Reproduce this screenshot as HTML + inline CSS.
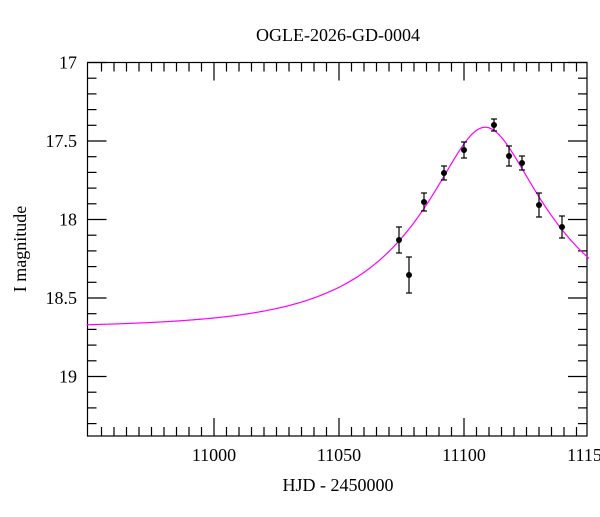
<!DOCTYPE html>
<html><head><meta charset="utf-8"><style>
body{margin:0;background:#fff}
svg text{font-family:"Liberation Serif",serif;fill:#000}
</style></head><body>
<svg id="s" width="600" height="512" viewBox="0 0 600 512" xmlns="http://www.w3.org/2000/svg">
<text x="338" y="41" font-size="18" text-anchor="middle">OGLE-2026-GD-0004</text>
<text x="338" y="491" font-size="18" text-anchor="middle">HJD - 2450000</text>
<text transform="translate(26,249) rotate(-90)" font-size="18" text-anchor="middle">I magnitude</text>
<g id="ax" stroke="#000" stroke-width="1.2" fill="none"></g>
<g id="lab" font-size="18"></g>
<path id="curve" fill="none" stroke="#ff00ff" stroke-width="1.2"/>
<g id="pts"></g>
</svg>
<script>
var ns="http://www.w3.org/2000/svg";
function X(t){return 214+(t-11000)*2.5;}
function Y(m){return 62.5+(m-17)*157;}
var L=87.5,R=587,T=62.5,B=436;
var ax=document.getElementById('ax'),lab=document.getElementById('lab');
function line(x1,y1,x2,y2,g,extra){var l=document.createElementNS(ns,'line');l.setAttribute('x1',x1);l.setAttribute('y1',y1);l.setAttribute('x2',x2);l.setAttribute('y2',y2);if(extra)for(var k in extra)l.setAttribute(k,extra[k]);(g||ax).appendChild(l);}
function txt(x,y,s,a){var t=document.createElementNS(ns,'text');t.setAttribute('x',x);t.setAttribute('y',y);t.setAttribute('text-anchor',a);t.textContent=s;lab.appendChild(t);}
var r=document.createElementNS(ns,'rect');r.setAttribute('x',L);r.setAttribute('y',T);r.setAttribute('width',R-L);r.setAttribute('height',B-T);ax.appendChild(r);
for(var t=10955;t<=11145;t+=5){var x=X(t);var maj=(t%50==0),len=maj?18:9;
line(x,T,x,T+len);line(x,B,x,B-len);if(maj)txt(x,461,String(t),'middle');}
txt(X(11150),461,'11150','middle');
for(var i=0;i<=23;i++){var m=17+i*0.1;var y=Y(m);if(y>B-0.5)continue;var maj=(i%5==0),len=maj?19:9;
line(L,y,L+len,y);line(R,y,R-len,y);if(maj)txt(77,y+6,(Math.round(m*10)/10).toString(),'end');}
var u0=0.32,tE=54.6,t0=11108.5,base=18.69,d="";
for(var t=10949;t<=11150;t+=0.5){var tau=(t-t0)/tE,u=Math.sqrt(u0*u0+tau*tau);var A=(u*u+2)/(u*Math.sqrt(u*u+4));var m=base-2.5*Math.log10(A);d+=(d?"L":"M")+X(t).toFixed(2)+","+Y(m).toFixed(2);}
document.getElementById('curve').setAttribute('d',d);
var P=[[399,240,13],[409,275,18],[424,202,9],[444,173,7],[464,150,8],[494,125,6],[509,156,10],[522,163,7],[539,205,12],[562,227,11]];
var g=document.getElementById('pts');
P.forEach(function(p){var x=p[0],y=p[1],e=p[2];
line(x,y-e,x,y+e,g,{stroke:'#000','stroke-width':1.2});
line(x-3,y-e,x+3,y-e,g,{stroke:'#000','stroke-width':1.2});
line(x-3,y+e,x+3,y+e,g,{stroke:'#000','stroke-width':1.2});
var c=document.createElementNS(ns,'circle');c.setAttribute('cx',x);c.setAttribute('cy',y);c.setAttribute('r',3);c.setAttribute('fill','#000');g.appendChild(c);});
</script>
</body></html>
